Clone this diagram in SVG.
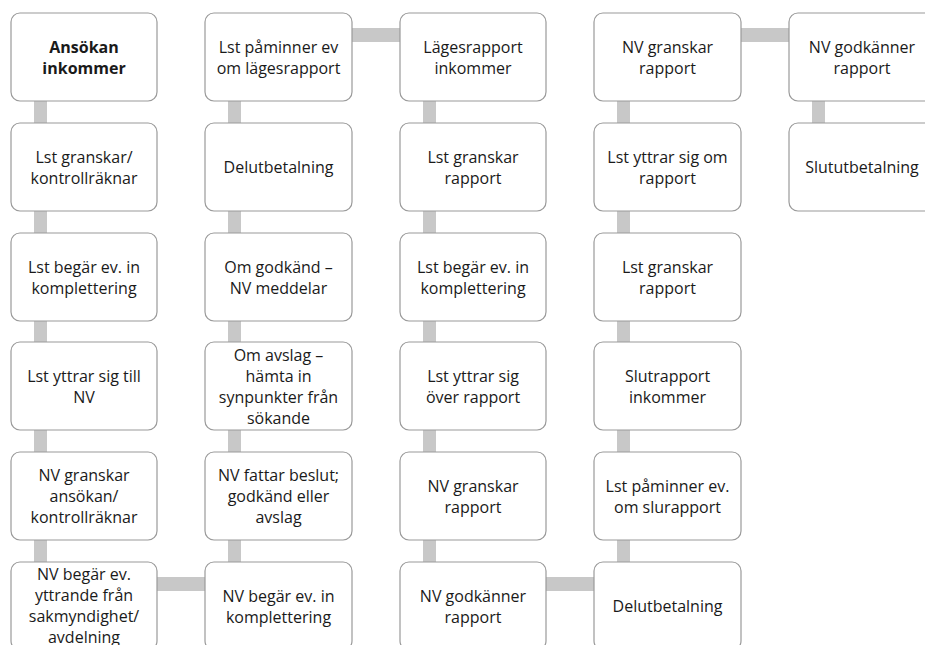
<svg xmlns="http://www.w3.org/2000/svg" width="925" height="645" viewBox="0 0 925 645">
<style>
.bg{fill:#ffffff}
.bar{fill:#c8c8c8}
.box{fill:#ffffff;stroke:#9a9a9a;stroke-width:1.2}
text{font-family:"Open Sans","Noto Sans","DejaVu Sans",sans-serif;font-size:16px;fill:#1a1a1a;text-anchor:middle}
.b{font-weight:bold}
</style>
<rect class="bg" x="0" y="0" width="925" height="645"/>
<g id="connectors">
<rect class="bar" x="34" y="90" width="13" height="480"/>
<rect class="bar" x="228" y="90" width="13" height="480"/>
<rect class="bar" x="423" y="90" width="13" height="480"/>
<rect class="bar" x="617" y="90" width="13" height="480"/>
<rect class="bar" x="812" y="90" width="13" height="40"/>
<rect class="bar" x="150" y="577" width="60" height="14"/>
<rect class="bar" x="345" y="28" width="60" height="14"/>
<rect class="bar" x="540" y="577" width="60" height="14"/>
<rect class="bar" x="735" y="28" width="60" height="14"/>
</g>
<g id="n1"><rect class="box" x="11" y="13" width="146" height="88" rx="9"/><text class="b" x="84" y="53">Ansökan</text><text class="b" x="84" y="74">inkommer</text></g>
<g id="n2"><rect class="box" x="11" y="123" width="146" height="88" rx="9"/><text x="84" y="162.5">Lst granskar/</text><text x="84" y="183.5">kontrollräknar</text></g>
<g id="n3"><rect class="box" x="11" y="233" width="146" height="88" rx="9"/><text x="84" y="272.5">Lst begär ev. in</text><text x="84" y="293.5">komplettering</text></g>
<g id="n4"><rect class="box" x="11" y="342" width="146" height="88" rx="9"/><text x="84" y="381.5">Lst yttrar sig till</text><text x="84" y="402.5">NV</text></g>
<g id="n5"><rect class="box" x="11" y="452" width="146" height="88" rx="9"/><text x="84" y="481">NV granskar</text><text x="84" y="502">ansökan/</text><text x="84" y="523">kontrollräknar</text></g>
<g id="n6"><rect class="box" x="11" y="562" width="146" height="88" rx="9"/><text x="84" y="579.5">NV begär ev.</text><text x="84" y="600.5">yttrande från</text><text x="84" y="621.5">sakmyndighet/</text><text x="84" y="642.5">avdelning</text></g>

<g id="n7"><rect class="box" x="205" y="562" width="147" height="88" rx="9"/><text x="278.5" y="601.5">NV begär ev. in</text><text x="278.5" y="622.5">komplettering</text></g>
<g id="n8"><rect class="box" x="205" y="452" width="147" height="88" rx="9"/><text x="278.5" y="481">NV fattar beslut;</text><text x="278.5" y="502">godkänd eller</text><text x="278.5" y="523">avslag</text></g>
<g id="n9"><rect class="box" x="205" y="342" width="147" height="88" rx="9"/><text x="278.5" y="360.5">Om avslag –</text><text x="278.5" y="381.5">hämta in</text><text x="278.5" y="402.5">synpunkter från</text><text x="278.5" y="423.5">sökande</text></g>
<g id="n10"><rect class="box" x="205" y="233" width="147" height="88" rx="9"/><text x="278.5" y="272.5">Om godkänd –</text><text x="278.5" y="293.5">NV meddelar</text></g>
<g id="n11"><rect class="box" x="205" y="123" width="147" height="88" rx="9"/><text x="278.5" y="173">Delutbetalning</text></g>
<g id="n12"><rect class="box" x="205" y="13" width="147" height="88" rx="9"/><text x="278.5" y="52.5">Lst påminner ev</text><text x="278.5" y="73.5">om lägesrapport</text></g>

<g id="n13"><rect class="box" x="400" y="13" width="146" height="88" rx="9"/><text x="473" y="52.5">Lägesrapport</text><text x="473" y="73.5">inkommer</text></g>
<g id="n14"><rect class="box" x="400" y="123" width="146" height="88" rx="9"/><text x="473" y="162.5">Lst granskar</text><text x="473" y="183.5">rapport</text></g>
<g id="n15"><rect class="box" x="400" y="233" width="146" height="88" rx="9"/><text x="473" y="272.5">Lst begär ev. in</text><text x="473" y="293.5">komplettering</text></g>
<g id="n16"><rect class="box" x="400" y="342" width="146" height="88" rx="9"/><text x="473" y="381.5">Lst yttrar sig</text><text x="473" y="402.5">över rapport</text></g>
<g id="n17"><rect class="box" x="400" y="452" width="146" height="88" rx="9"/><text x="473" y="491.5">NV granskar</text><text x="473" y="512.5">rapport</text></g>
<g id="n18"><rect class="box" x="400" y="562" width="146" height="88" rx="9"/><text x="473" y="601.5">NV godkänner</text><text x="473" y="622.5">rapport</text></g>

<g id="n19"><rect class="box" x="594" y="562" width="147" height="88" rx="9"/><text x="667.5" y="612">Delutbetalning</text></g>
<g id="n20"><rect class="box" x="594" y="452" width="147" height="88" rx="9"/><text x="667.5" y="491.5">Lst påminner ev.</text><text x="667.5" y="512.5">om slurapport</text></g>
<g id="n21"><rect class="box" x="594" y="342" width="147" height="88" rx="9"/><text x="667.5" y="381.5">Slutrapport</text><text x="667.5" y="402.5">inkommer</text></g>
<g id="n22"><rect class="box" x="594" y="233" width="147" height="88" rx="9"/><text x="667.5" y="272.5">Lst granskar</text><text x="667.5" y="293.5">rapport</text></g>
<g id="n23"><rect class="box" x="594" y="123" width="147" height="88" rx="9"/><text x="667.5" y="162.5">Lst yttrar sig om</text><text x="667.5" y="183.5">rapport</text></g>
<g id="n24"><rect class="box" x="594" y="13" width="147" height="88" rx="9"/><text x="667.5" y="52.5">NV granskar</text><text x="667.5" y="73.5">rapport</text></g>

<g id="n25"><rect class="box" x="789" y="13" width="147" height="88" rx="9"/><text x="862" y="52.5">NV godkänner</text><text x="862" y="73.5">rapport</text></g>
<g id="n26"><rect class="box" x="789" y="123" width="147" height="88" rx="9"/><text x="862" y="173">Slututbetalning</text></g>
</svg>
